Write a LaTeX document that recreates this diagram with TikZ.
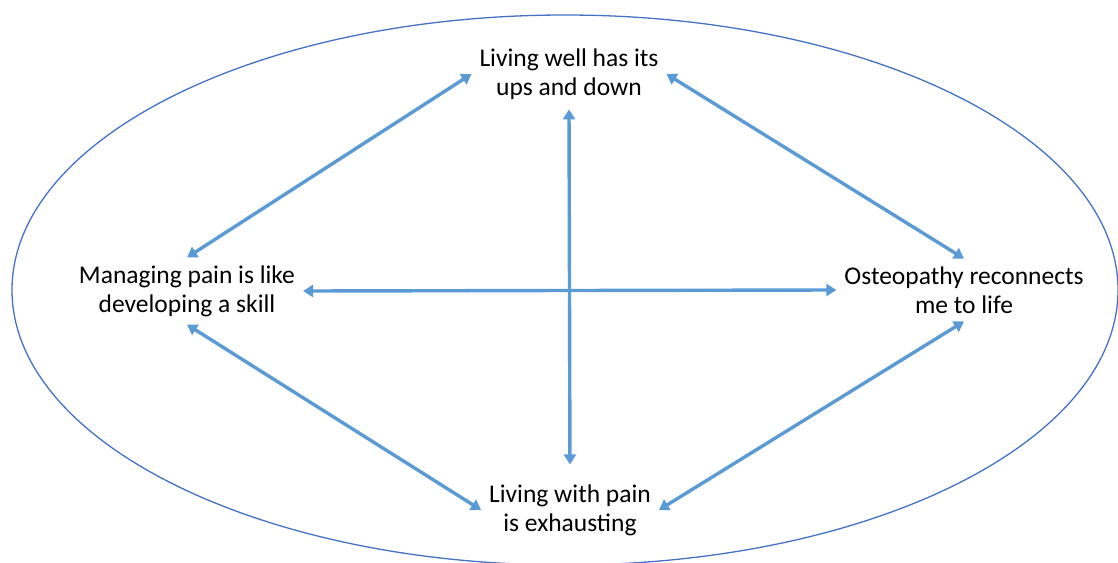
\documentclass[tikz,border=0pt]{standalone}
\usepackage{fontspec}
\setmainfont{Carlito}
\usetikzlibrary{arrows.meta}
\definecolor{arrblue}{HTML}{5B9BD5}
\definecolor{ellblue}{HTML}{4472C4}
\begin{document}
\begin{tikzpicture}[x=1pt,y=-1pt,
  lbl/.style={align=center,font=\fontsize{25.5}{29}\selectfont,inner sep=0pt,outer sep=8pt},
  link/.style={draw=arrblue,line width=3.4pt,{Triangle[width=12pt,length=10pt]}-{Triangle[width=12pt,length=10pt]}}]
\useasboundingbox (0,0) rectangle (1118,562);
\draw[ellblue,line width=1.3pt] (565,290) ellipse [x radius=553pt, y radius=275pt];
\node[lbl] (top) at (569,74) {Living well has its\\ups and down};
\node[lbl] (left) at (187,291) {Managing pain is like\\developing a skill};
\node[lbl] (right) at (964,290) {Osteopathy reconnects\\me to life};
\node[lbl] (bottom) at (570,510) {Living with pain\\is exhausting};
\draw[link] (left.north) -- (top.west);
\draw[link] (top.east) -- (right.north);
\draw[link] (left.south) -- (bottom.west);
\draw[link] (right.south) -- (bottom.east);
\draw[link] (left.east) -- (right.west);
\draw[link,shorten <=2pt,shorten >=12pt] (top.south) -- (bottom.north);
\end{tikzpicture}
\end{document}
